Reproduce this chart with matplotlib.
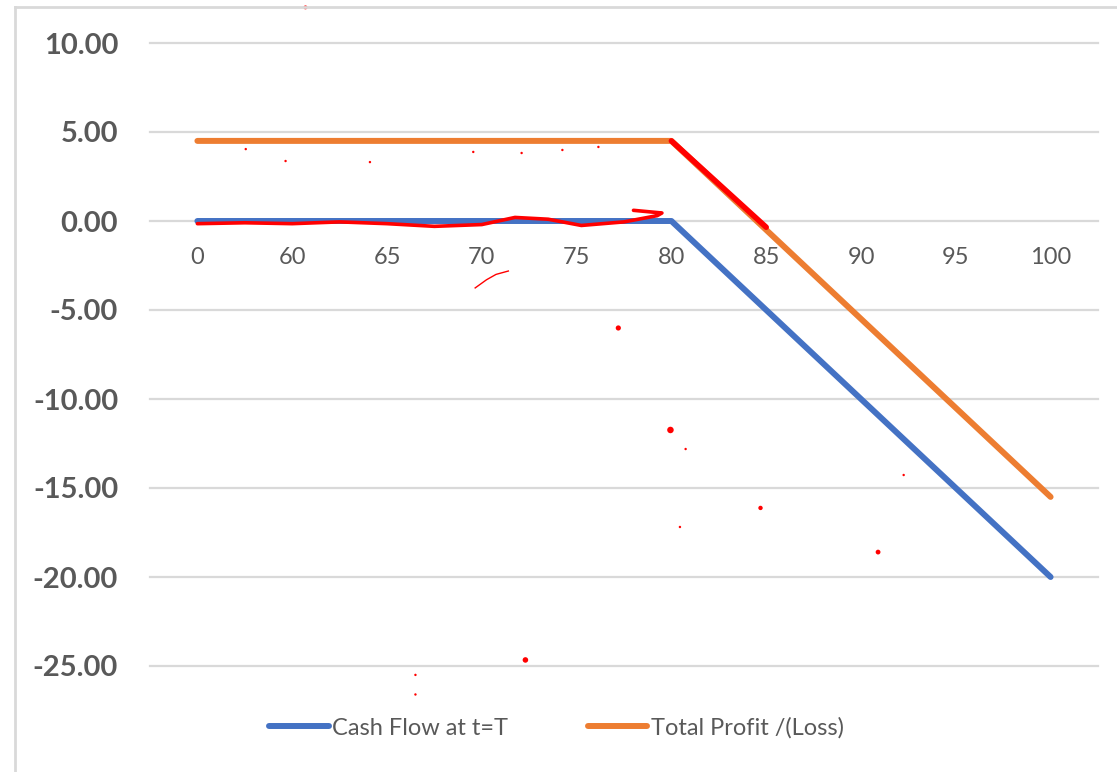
import matplotlib
matplotlib.use("Agg")
import matplotlib.pyplot as plt
from matplotlib.lines import Line2D

# Payoff table: underlying price at expiry vs. cash flow and total profit
categories = ["0", "60", "65", "70", "75", "80", "85", "90", "95", "100"]
cash_flow = [0, 0, 0, 0, 0, 0, -5, -10, -15, -20]
total_profit = [4.5, 4.5, 4.5, 4.5, 4.5, 4.5, -0.5, -5.5, -10.5, -15.5]
y_ticks = [10, 5, 0, -5, -10, -15, -20, -25]

# Hand-drawn red pen marks (category index, value)
pen_wave_x = [0.0, 0.5, 1.0, 1.5, 2.0, 2.5, 3.0, 3.35, 3.7, 4.05, 4.5, 4.85, 4.9, 4.6]
pen_wave_y = [-0.15, -0.1, -0.15, -0.05, -0.15, -0.3, -0.2, 0.2, 0.1, -0.25, -0.05, 0.3, 0.45, 0.6]
pen_arc_x = [2.93, 3.05, 3.15, 3.28]
pen_arc_y = [-3.76, -3.3, -3.0, -2.81]
pen_dots_x = [1.14, 0.51, 0.93, 1.82, 2.91, 3.42, 3.85, 4.23, 4.44, 4.99, 5.15, 5.09, 5.94, 7.18, 7.45, 3.46, 2.30, 2.30]
pen_dots_y = [12.0, 4.04, 3.37, 3.31, 3.88, 3.82, 3.99, 4.16, -6.01, -11.74, -12.81, -17.19, -16.12, -18.6, -14.27, -24.66, -25.5, -26.6]
pen_dot_sizes = [8, 3, 3, 3, 3, 3, 3, 3, 14, 22, 3, 3, 10, 12, 3, 16, 3, 3]

BLUE = "#4472C4"
ORANGE = "#ED7D31"
GRID = "#D9D9D9"
TEXT = "#595959"
PEN = "#FF0000"

plt.rcParams["font.family"] = ["Lato", "DejaVu Sans"]

fig = plt.figure(figsize=(11.17, 7.72), dpi=100)
ax = fig.add_axes([150 / 1117, 1 - 666 / 772, (1098 - 150) / 1117, (666 - 43) / 772])

x = list(range(len(categories)))
ax.set_xlim(-0.5, len(categories) - 0.5)
ax.set_ylim(-25, 10)

for v in y_ticks:
    ax.axhline(v, color=GRID, lw=1.6, zorder=0, clip_on=False)

ax.plot(x, cash_flow, color=BLUE, lw=4.3, solid_capstyle="round",
        solid_joinstyle="round", label="Cash Flow at t=T", zorder=3)
ax.plot(x, total_profit, color=ORANGE, lw=4.3, solid_capstyle="round",
        solid_joinstyle="round", label="Total Profit /(Loss)", zorder=3)

# red highlight over the sloping part of the profit line
ax.plot(x[5:7], [total_profit[5], total_profit[6] + 0.15], color=PEN, lw=4.0,
        solid_capstyle="round", zorder=4)
ax.plot(pen_wave_x, pen_wave_y, color=PEN, lw=2.6, zorder=4,
        solid_capstyle="round", solid_joinstyle="round")
ax.plot(pen_arc_x, pen_arc_y, color=PEN, lw=1.0, zorder=4)
ax.scatter(pen_dots_x, pen_dots_y, s=pen_dot_sizes, color=PEN, lw=0, zorder=4, clip_on=False)

ax.set_yticks(y_ticks)
ax.set_yticklabels([f"{v:.2f}" for v in y_ticks], fontsize=21, fontweight="bold", color=TEXT)
ax.tick_params(axis="y", length=0, pad=23)
ax.set_xticks([])
for s in ax.spines.values():
    s.set_visible(False)

# category labels sit just below the zero line
for i, c in enumerate(categories):
    ax.annotate(c, xy=(i, 0), xytext=(0, -26), textcoords="offset points",
                ha="center", va="center", fontsize=17, color=TEXT)

leg = ax.legend(loc="center", bbox_to_anchor=(0.429, (1 - 728 / 772 - (1 - 666 / 772)) / ((666 - 43) / 772)),
                ncol=2, frameon=False, fontsize=17, handlelength=2.5,
                handletextpad=0.15, columnspacing=3.4)
for t in leg.get_texts():
    t.set_color(TEXT)

# chart frame
fig.add_artist(Line2D([15 / 1117, 15 / 1117], [0, 1 - 7 / 772], color=GRID, lw=2))
fig.add_artist(Line2D([15 / 1117, 1], [1 - 7 / 772, 1 - 7 / 772], color=GRID, lw=2))

fig.savefig("out.png", dpi=100, facecolor="white")
